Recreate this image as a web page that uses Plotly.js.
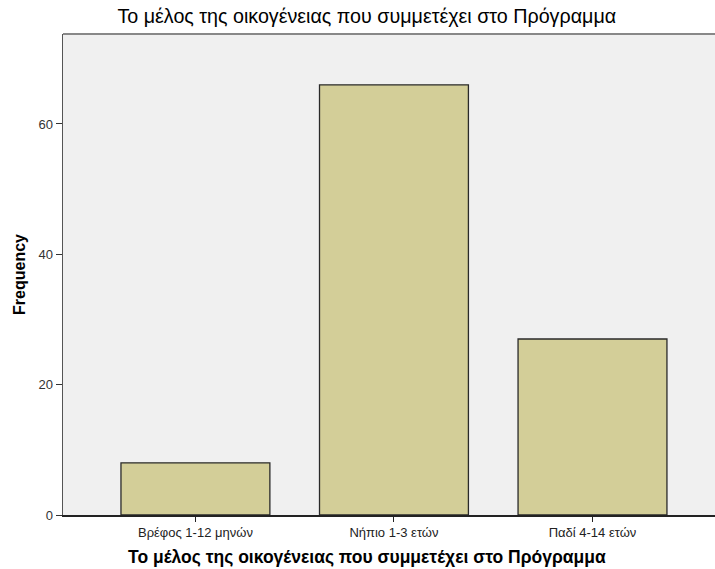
<!DOCTYPE html>
<html>
<head>
<meta charset="utf-8">
<script src="https://cdn.plot.ly/plotly-3.0.1.min.js"></script>
<style>html,body{margin:0;padding:0;background:#fff;}#chart{width:715px;height:569px;}</style>
</head>
<body>
<div id="chart"></div>
<script>
const categories = ["Βρέφος 1-12 μηνών", "Νήπιο 1-3 ετών", "Παδί 4-14 ετών"];
const frequencies = [8, 66, 27];
const yTicks = [0, 20, 40, 60];
const titleText = "Το μέλος της οικογένειας που συμμετέχει στο Πρόγραμμα";

const trace = {
  type: "bar",
  x: categories,
  y: frequencies,
  width: 0.75,
  marker: {color: "#d3ce98", line: {color: "#2a2a2a", width: 1.3}},
  hoverinfo: "x+y"
};

const font = "Liberation Sans, Arial, sans-serif";
const layout = {
  width: 715, height: 569,
  margin: {l: 63, r: 0, t: 34, b: 54},
  paper_bgcolor: "#ffffff",
  plot_bgcolor: "#f0f0f0",
  showlegend: false,
  font: {family: font, color: "#222"},
  title: {text: titleText,
          font: {family: font, size: 19.7, color: "#000"},
          x: 0.513, xanchor: "center", y: 0.983, yanchor: "top"},
  xaxis: {
    type: "category",
    range: [-0.667, 2.617],
    showgrid: false, zeroline: false,
    showline: true, linecolor: "#222", linewidth: 1.5,
    ticks: "outside", ticklen: 5, tickcolor: "#222", tickwidth: 1,
    tickfont: {family: font, size: 13, color: "#222"}
  },
  yaxis: {
    range: [0, 73.8],
    tickvals: yTicks,
    showgrid: false, zeroline: false,
    showline: true, linecolor: "#555", linewidth: 1.5,
    ticks: "outside", ticklen: 6, tickcolor: "#333", tickwidth: 1,
    tickfont: {family: font, size: 13, color: "#333"},
    title: {text: "Frequency", font: {family: font, size: 16, color: "#000", weight: "bold"}, standoff: 9}
  },
  annotations: [
    {text: titleText, xref: "paper", yref: "paper", x: 0.466, y: -0.0873,
     xanchor: "center", yanchor: "middle", showarrow: false,
     font: {family: font, size: 17.5, color: "#000", weight: "bold"}}
  ],
  shapes: [
    {type: "line", xref: "paper", yref: "paper", x0: 0, x1: 1, y0: 1, y1: 1,
     line: {color: "#888", width: 2}}
  ]
};

Plotly.newPlot("chart", [trace], layout, {displayModeBar: false, staticPlot: true});
</script>
</body>
</html>
